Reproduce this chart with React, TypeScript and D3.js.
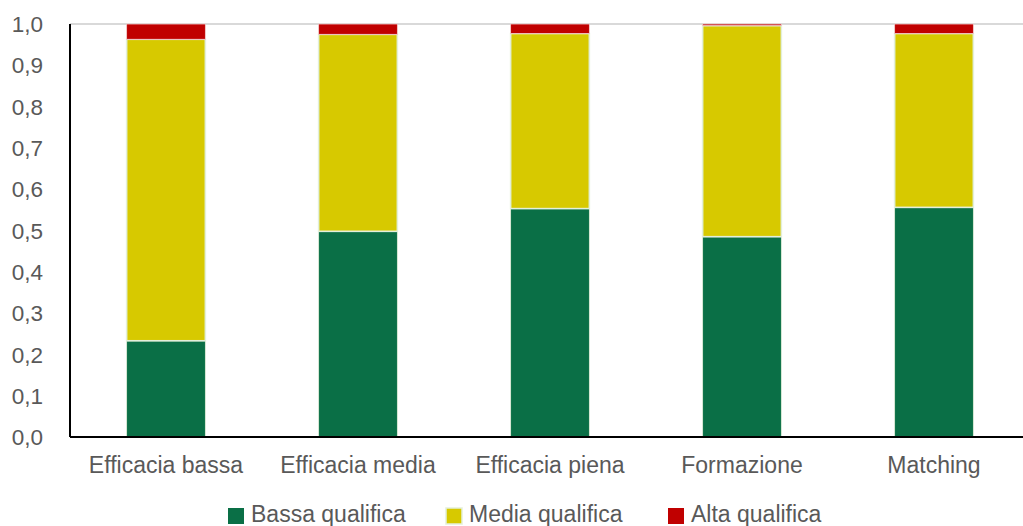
import React from "react";
import * as d3 from "d3";

const categories = ["Efficacia bassa", "Efficacia media", "Efficacia piena", "Formazione", "Matching"];
const seriesNames = ["Bassa qualifica", "Media qualifica", "Alta qualifica"];
const bassa = [0.233, 0.498, 0.553, 0.485, 0.556];
const alta = [0.037, 0.025, 0.023, 0.004, 0.023];
const media = [0.730, 0.477, 0.424, 0.511, 0.421];
const yTicks = [0, 0.1, 0.2, 0.3, 0.4, 0.5, 0.6, 0.7, 0.8, 0.9, 1.0];
const colors = ["#0a6f46", "#d7c900", "#c00000"];

const W = 1023, H = 526;
const left = 70, right = 1030, top = 24, bottom = 437;
const font = "'Liberation Sans', Arial, sans-serif";
const textColor = "#595959";

export default function App() {
  const x = d3.scaleBand<string>().domain(categories).range([left, right]).paddingInner(0.59).paddingOuter(0.295);
  const y = d3.scaleLinear().domain([0, 1]).range([bottom, top]);
  const rows = categories.map((c, i) => ({ cat: c, b: bassa[i], m: media[i], a: alta[i] }));
  const stack = d3.stack<any>().keys(["b", "m", "a"])(rows);
  const legendX = [228, 446, 668];

  return (
    <svg width={W} height={H} style={{ position: "absolute", left: 0, top: 0 }}>
      <rect width={W} height={H} fill="#fff" />
      <line x1={left} x2={W} y1={y(1)} y2={y(1)} stroke="#d9d9d9" strokeWidth={2} />
      {stack.map((s, si) => (
        <g key={si}>
          {s.map((d, i) => (
            <rect
              key={i}
              x={x(categories[i])!}
              width={x.bandwidth()}
              y={y(Math.min(d[1], 1))}
              height={Math.max(0, y(d[0]) - y(Math.min(d[1], 1)))}
              fill={colors[si]}
              stroke={si === 2 ? "#f3d0d0" : "#e3efdb"}
              strokeWidth={si === 1 ? 1.6 : 0.8}
            />
          ))}
        </g>
      ))}
      <line x1={left} x2={left} y1={top} y2={bottom} stroke="#000" strokeWidth={2} />
      <line x1={left} x2={W} y1={bottom} y2={bottom} stroke="#000" strokeWidth={2} />
      {yTicks.map((t) => (
        <text key={t} x={43} y={y(t)} dy="0.36em" textAnchor="end" fontFamily={font} fontSize={22.5} fill={textColor}>
          {d3.format(".1f")(t).replace(".", ",")}
        </text>
      ))}
      {categories.map((c) => (
        <text key={c} x={x(c)! + x.bandwidth() / 2} y={473} textAnchor="middle" fontFamily={font} fontSize={23} fill={textColor}>
          {c}
        </text>
      ))}
      {seriesNames.map((n, i) => (
        <g key={n}>
          <rect x={legendX[i]} y={508} width={16} height={16} fill={colors[i]} stroke={i === 1 ? "#e3efdb" : "none"} strokeWidth={1.5} />
          <text x={legendX[i] + 23} y={522} fontFamily={font} fontSize={23} fill={textColor}>
            {n}
          </text>
        </g>
      ))}
    </svg>
  );
}
